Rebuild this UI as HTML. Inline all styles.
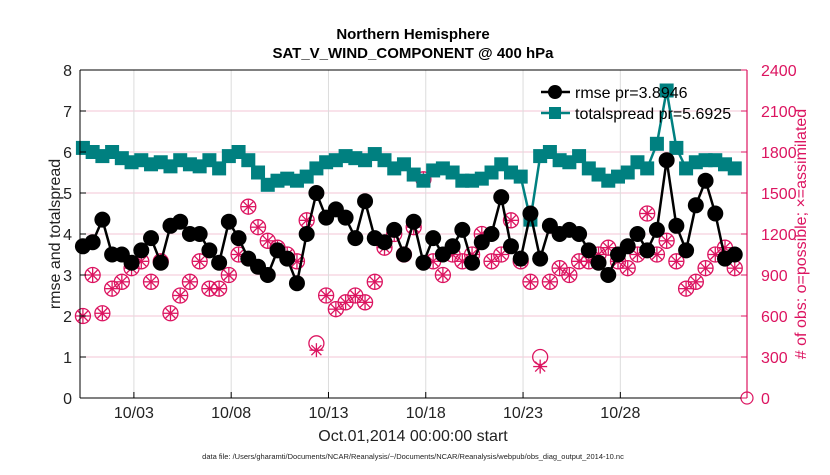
<!DOCTYPE html>
<html><head><meta charset="utf-8"><style>
body{margin:0;background:#fff;font-family:"Liberation Sans",sans-serif}
</style></head><body>
<svg id="chart" width="830" height="470" xmlns="http://www.w3.org/2000/svg" font-family="Liberation Sans, sans-serif">
<g id="grid"></g><g id="marks"></g><g id="axes"></g>
</svg>
<script>
const rmse=[3.7,3.8,4.35,3.5,3.5,3.3,3.6,3.9,3.3,4.2,4.3,4.0,4.0,3.6,3.3,4.3,3.9,3.4,3.2,3.0,3.6,3.4,2.8,4.0,5.0,4.4,4.6,4.4,3.9,4.8,3.9,3.8,4.1,3.5,4.3,3.3,3.9,3.5,3.7,4.1,3.3,3.8,4.0,4.9,3.7,3.4,4.5,3.4,4.2,4.0,4.1,4.0,3.6,3.3,3.0,3.5,3.7,4.0,3.6,4.1,5.8,4.2,3.6,4.7,5.3,4.5,3.4,3.5];
const spread=[6.1,6.0,5.9,6.0,5.85,5.75,5.8,5.7,5.75,5.65,5.8,5.7,5.65,5.8,5.6,5.9,6.0,5.8,5.5,5.2,5.3,5.35,5.3,5.4,5.6,5.75,5.8,5.9,5.85,5.8,5.95,5.8,5.6,5.7,5.45,5.3,5.55,5.6,5.5,5.3,5.3,5.35,5.5,5.7,5.5,5.4,4.35,5.9,6.0,5.8,5.75,5.9,5.6,5.45,5.3,5.4,5.5,5.75,5.6,6.2,7.5,6.1,5.6,5.75,5.8,5.8,5.7,5.6];
const obs=[600,900,620,800,850,950,1000,850,1000,620,750,850,1000,800,800,900,1050,1400,1250,1150,1100,1050,1000,1300,400,750,650,700,750,700,850,1100,1200,1050,1250,1600,1000,900,1050,1000,1050,1200,1000,1050,1300,1000,850,300,850,950,900,1000,1000,1050,1100,1000,950,1050,1350,1050,1150,1000,800,850,950,1050,1100,950];
const assim=[600,900,620,800,850,950,1000,850,1000,620,750,850,1000,800,800,900,1050,1400,1250,1150,1100,1050,1000,1300,350,750,650,700,750,700,850,1100,1200,1050,1250,1600,1000,900,1050,1000,1050,1200,1000,1050,1300,1000,850,230,850,950,900,1000,1000,1050,1100,1000,950,1050,1350,1050,1150,1000,800,850,950,1050,1100,950];
const dateLabels=["10/03","10/08","10/13","10/18","10/23","10/28"];
const leftTicks=[0,1,2,3,4,5,6,7,8];
const rightTicks=[0,300,600,900,1200,1500,1800,2100,2400];
const X0=80,X1=747,Y0=398,Y1=70,DAYS=34.28;
const NS="http://www.w3.org/2000/svg";
const xs=t=>X0+t*(X1-X0)/DAYS;
const yl=v=>Y0-v*(Y0-Y1)/8;
const yr=v=>Y0-v*(Y0-Y1)/2400;
const tOf=i=>0.15+0.5*i;
function el(tag,attrs,parent,text){const e=document.createElementNS(NS,tag);for(const k in attrs)e.setAttribute(k,attrs[k]);if(text!==undefined)e.textContent=text;parent.appendChild(e);return e;}
const grid=document.getElementById('grid'),marks=document.getElementById('marks'),axes=document.getElementById('axes');
const PINK="#dc1460",TEAL="#008080";
leftTicks.forEach(v=>{if(v>0&&v<8){const l=el('line',{x1:X0,x2:X1,y1:yl(v),y2:yl(v),stroke:"#f3c6d6","stroke-width":1},grid);

}});
dateLabels.forEach((d,k)=>{const x=xs(2.77+5*k);const l=el('line',{x1:x,x2:x,y1:Y1,y2:Y0,stroke:"#dcdcdc","stroke-width":1},grid);

});
obs.forEach((v,i)=>{const x=xs(tOf(i)),y=yr(v);const g=el('g',{},marks);


el('circle',{cx:x,cy:y,r:7.5,fill:"none",stroke:PINK,"stroke-width":1.3},g);});
assim.forEach((v,i)=>{const x=xs(tOf(i)),y=yr(v);const g=el('g',{stroke:PINK,"stroke-width":1.3},marks);


el('line',{x1:x-7,x2:x+7,y1:y,y2:y},g);el('line',{x1:x,x2:x,y1:y-7,y2:y+7},g);
el('line',{x1:x-5,x2:x+5,y1:y-5,y2:y+5},g);el('line',{x1:x-5,x2:x+5,y1:y+5,y2:y-5},g);});
const last=el('circle',{cx:X1,cy:Y0,r:6,fill:"none",stroke:PINK,"stroke-width":1.2},marks);


const sp=el('polyline',{points:spread.map((v,i)=>xs(tOf(i))+","+yl(v)).join(" "),fill:"none",stroke:TEAL,"stroke-width":2.5},marks);


spread.forEach((v,i)=>{const r=el('rect',{x:xs(tOf(i))-7,y:yl(v)-7,width:14,height:14,fill:TEAL},marks);

});
const rl=el('polyline',{points:rmse.map((v,i)=>xs(tOf(i))+","+yl(v)).join(" "),fill:"none",stroke:"#000","stroke-width":2.5},marks);


rmse.forEach((v,i)=>{const c=el('circle',{cx:xs(tOf(i)),cy:yl(v),r:8,fill:"#000"},marks);

});
el('line',{x1:X0,x2:X1,y1:Y1,y2:Y1,stroke:"#000"},axes);
el('line',{x1:X0,x2:X1,y1:Y0,y2:Y0,stroke:"#000"},axes);
el('line',{x1:X0,x2:X0,y1:Y1,y2:Y0,stroke:"#000"},axes);
el('line',{x1:X1,x2:X1,y1:Y1,y2:Y0,stroke:PINK,"stroke-width":1.2},axes);
leftTicks.forEach(v=>{el('line',{x1:X0,x2:X0+6,y1:yl(v),y2:yl(v),stroke:"#000"},axes);
const t=el('text',{x:X0-8,y:yl(v)+6,"text-anchor":"end","font-size":16,fill:"#222"},axes,String(v));

});
rightTicks.forEach(v=>{el('line',{x1:X1-6,x2:X1,y1:yr(v),y2:yr(v),stroke:PINK},axes);
const t=el('text',{x:X1+14,y:yr(v)+6,"font-size":16,fill:PINK},axes,String(v));

});
dateLabels.forEach((d,k)=>{const x=xs(2.77+5*k);el('line',{x1:x,x2:x,y1:Y0,y2:Y0-6,stroke:"#000"},axes);
const t=el('text',{x:x,y:418,"text-anchor":"middle","font-size":16,fill:"#222"},axes,d);

});
</script>
<svg width="830" height="470" style="position:absolute;left:0;top:0" xmlns="http://www.w3.org/2000/svg" font-family="Liberation Sans, sans-serif">
<text x="413" y="39" text-anchor="middle" font-size="15" font-weight="bold">Northern Hemisphere</text>
<text x="413" y="58" text-anchor="middle" font-size="15" font-weight="bold">SAT_V_WIND_COMPONENT @ 400 hPa</text>
<text x="413" y="441" text-anchor="middle" font-size="16" fill="#222">Oct.01,2014 00:00:00 start</text>
<text x="413" y="459" text-anchor="middle" font-size="7.5" fill="#222">data file: /Users/gharamti/Documents/NCAR/Reanalysis/~/Documents/NCAR/Reanalysis/webpub/obs_diag_output_2014-10.nc</text>
<text transform="translate(60,234) rotate(-90)" text-anchor="middle" font-size="16" fill="#222">rmse and totalspread</text>
<text transform="translate(806,234) rotate(-90)" text-anchor="middle" font-size="16" fill="#dc1460"># of obs: o=possible; ×=assimilated</text>
<g>
<line x1="541" x2="570" y1="92" y2="92" stroke="#000" stroke-width="2.5"/><circle cx="555" cy="92" r="7" fill="#000"/>
<text x="575" y="98" font-size="16">rmse pr=3.8946</text>
<line x1="541" x2="570" y1="113" y2="113" stroke="#008080" stroke-width="2.5"/><rect x="549" y="107" width="12" height="12" fill="#008080"/>
<text x="575" y="119" font-size="16">totalspread pr=5.6925</text>
</g>
</svg>
</body></html>
